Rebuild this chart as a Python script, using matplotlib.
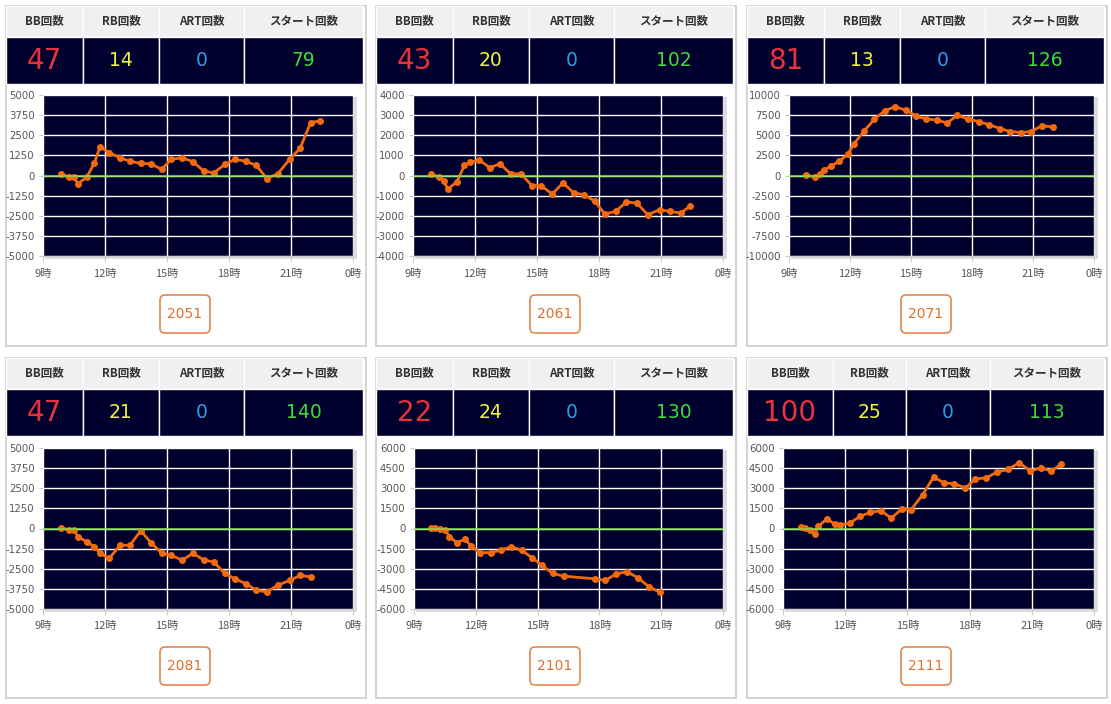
import matplotlib
matplotlib.use("Agg")
import matplotlib.pyplot as plt
from matplotlib.patches import Rectangle, FancyBboxPatch

plt.rcParams['font.family'] = ['DejaVu Sans', 'Noto Sans CJK JP']

# ---------------- data ----------------
headers = ["BB回数", "RB回数", "ART回数", "スタート回数"]
bb_counts = [47, 43, 81, 47, 22, 100]
rb_counts = [14, 20, 13, 21, 24, 25]
art_counts = [0, 0, 0, 0, 0, 0]
start_counts = [79, 102, 126, 140, 130, 113]
machine_ids = ["2051", "2061", "2071", "2081", "2101", "2111"]

x_ticks = [9, 12, 15, 18, 21, 24]
x_labels = ["9時", "12時", "15時", "18時", "21時", "0時"]

y_ticks_1 = [5000, 3750, 2500, 1250, 0, -1250, -2500, -3750, -5000]
y_ticks_2 = [4000, 3000, 2000, 1000, 0, -1000, -2000, -3000, -4000]
y_ticks_3 = [10000, 7500, 5000, 2500, 0, -2500, -5000, -7500, -10000]
y_ticks_4 = [5000, 3750, 2500, 1250, 0, -1250, -2500, -3750, -5000]
y_ticks_5 = [6000, 4500, 3000, 1500, 0, -1500, -3000, -4500, -6000]
y_ticks_6 = [6000, 4500, 3000, 1500, 0, -1500, -3000, -4500, -6000]

times_1 = [9.85, 10.28, 10.48, 10.69, 11.12, 11.49, 11.76, 12.21, 12.72, 13.2, 13.73, 14.22, 14.75, 15.18,
           15.74, 16.26, 16.78, 17.27, 17.8, 18.28, 18.8, 19.32, 19.83, 20.36, 20.93, 21.44, 21.95, 22.4]
vals_1 = [104, -104, -104, -500, -104, 792, 1790, 1417, 1104, 896, 750, 729, 375, 1000,
          1104, 854, 271, 167, 687, 1000, 896, 625, -187, 104, 1000, 1687, 3290, 3395]

times_2 = [9.85, 10.28, 10.48, 10.69, 11.12, 11.49, 11.76, 12.21, 12.72, 13.2, 13.73, 14.22, 14.75, 15.18,
           15.74, 16.26, 16.78, 17.27, 17.8, 18.28, 18.8, 19.32, 19.83, 20.36, 20.93, 21.44, 21.95, 22.4]
vals_2 = [83, -83, -283, -667, -317, 500, 667, 767, 383, 583, 83, 83, -500, -500,
          -917, -367, -867, -950, -1283, -1917, -1783, -1317, -1367, -1950, -1700, -1783, -1867, -1533]

times_3 = [9.85, 10.3, 10.5, 10.7, 11.07, 11.48, 11.89, 12.2, 12.7, 13.2, 13.71, 14.22, 14.74, 15.23,
           15.75, 16.26, 16.78, 17.27, 17.81, 18.33, 18.85, 19.39, 19.88, 20.42, 20.9, 21.43, 22.0]
vals_3 = [42, -208, 208, 625, 1167, 1792, 2625, 3958, 5542, 7000, 8042, 8542, 8125, 7417,
          7000, 6917, 6500, 7500, 7000, 6708, 6292, 5833, 5458, 5333, 5458, 6167, 6042]

times_4 = [9.85, 10.28, 10.48, 10.69, 11.12, 11.49, 11.76, 12.21, 12.72, 13.2, 13.73, 14.22, 14.75, 15.18,
           15.74, 16.26, 16.78, 17.27, 17.8, 18.28, 18.8, 19.32, 19.83, 20.36, 20.93, 21.44, 21.95]
vals_4 = [42, -83, -83, -500, -833, -1125, -1542, -1854, -1042, -1042, -146, -875, -1542, -1667,
          -1958, -1542, -1958, -2083, -2792, -3125, -3417, -3833, -3937, -3521, -3229, -2917, -3000]

times_5 = [9.83, 10.03, 10.27, 10.51, 10.72, 11.07, 11.49, 11.76, 12.19, 12.72, 13.2, 13.73, 14.22, 14.73,
           15.21, 15.73, 16.26, 17.78, 18.29, 18.82, 19.35, 19.87, 20.43, 20.94]
vals_5 = [50, 25, 0, -125, -600, -1050, -800, -1300, -1800, -1800, -1625, -1350, -1625, -2175,
          -2750, -3350, -3550, -3750, -3875, -3375, -3225, -3675, -4375, -4750]

times_6 = [9.85, 10.04, 10.28, 10.52, 10.69, 11.12, 11.49, 11.76, 12.21, 12.72, 13.2, 13.73, 14.22, 14.75,
           15.18, 15.74, 16.26, 16.78, 17.27, 17.8, 18.28, 18.8, 19.32, 19.83, 20.4, 20.93, 21.44, 21.95, 22.4]
vals_6 = [75, 25, -100, -425, 150, 725, 325, 275, 400, 900, 1200, 1325, 775, 1475,
          1400, 2525, 3825, 3400, 3325, 3025, 3700, 3775, 4200, 4400, 4900, 4275, 4525, 4275, 4775]

series_times = [times_1, times_2, times_3, times_4, times_5, times_6]
series_vals = [vals_1, vals_2, vals_3, vals_4, vals_5, vals_6]
series_yticks = [y_ticks_1, y_ticks_2, y_ticks_3, y_ticks_4, y_ticks_5, y_ticks_6]

# ---------------- layout ----------------
W, H = 1111, 704
fig = plt.figure(figsize=(W / 100, H / 100), dpi=100)
fig.patch.set_facecolor('white')
bg = fig.add_axes([0, 0, 1, 1], zorder=0)
bg.set_xlim(0, W)
bg.set_ylim(H, 0)
bg.axis('off')

NAVY = '#00002e'
panel_x = [5, 375, 746]
row_y = [5, 357]
PW, PH = 360, 340
col_w_default = [77, 76, 85, 119]
col_w_wide = [86, 73, 84, 114]
plot_left_off = [38, 38, 43, 38, 39, 37]

JP = ['DejaVu Sans', 'Noto Sans CJK JP']

def fig_rect(x0, y0, x1, y1):
    return [x0 / W, 1 - y1 / H, (x1 - x0) / W, (y1 - y0) / H]

for i in range(6):
    px = panel_x[i % 3]
    py = row_y[i // 3]
    # panel border
    bg.add_patch(Rectangle((px + 0.5, py + 0.5), PW, PH, fill=False, ec='#cccccc', lw=1.2))
    # table
    widths = col_w_wide if bb_counts[i] >= 100 else col_w_default
    cx = px + 1
    vals_row = [bb_counts[i], rb_counts[i], art_counts[i], start_counts[i]]
    colors = ['#e8323c', '#f4f43a', '#2a9fe8', '#3ddc3a']
    sizes = [20, 13.5, 13.5, 13.5]
    for j, w in enumerate(widths):
        bg.add_patch(Rectangle((cx, py + 1), w, 31, fc='#f0f0f0', ec='white', lw=1))
        bg.add_patch(Rectangle((cx, py + 32), w, 47, fc=NAVY, ec='white', lw=1))
        bg.text(cx + w / 2, py + 17, headers[j], ha='center', va='center', fontsize=8.3,
                fontweight='bold', color='#333333', family=['Noto Sans CJK JP'])
        bg.text(cx + w / 2, py + 56, str(vals_row[j]), ha='center', va='center',
                fontsize=sizes[j], color=colors[j], family=JP)
        cx += w
    # plot area
    x0 = px + plot_left_off[i]
    x1 = px + 348
    y0 = py + 90 + (1 if i >= 3 else 0)
    y1 = py + 251 + (1 if i >= 3 else 0)
    bg.add_patch(Rectangle((x0 + 2, y0 + 2), x1 - x0 + 2, y1 - y0 + 1, fc='#dddddd', ec='none'))
    ax = fig.add_axes(fig_rect(x0, y0, x1, y1), zorder=2)
    ax.set_facecolor(NAVY)
    yt = series_yticks[i]
    ax.set_xlim(9, 24)
    ax.set_ylim(min(yt), max(yt))
    ax.set_xticks(x_ticks)
    ax.set_xticklabels(x_labels, family=['Noto Sans CJK JP'])
    ax.set_yticks(yt)
    ax.set_yticklabels([str(v) for v in yt])
    ax.grid(True, color='white', lw=1)
    ax.set_axisbelow(True)
    for s in ['top', 'right', 'left']:
        ax.spines[s].set_visible(False)
    ax.spines['bottom'].set_color('#cccccc')
    ax.tick_params(axis='y', length=3, width=0.8, color='#cccccc', pad=3,
                   labelsize=7.3, labelcolor='#555555')
    ax.tick_params(axis='x', length=4, width=0.8, color='#cccccc', pad=5,
                   labelsize=8, labelcolor='#555555')
    ax.plot(series_times[i], series_vals[i], color='#f26a0f', lw=2, marker='o',
            markersize=4, zorder=3, clip_on=False)
    ax.axhline(0, color='#7ee04a', lw=1.5, alpha=0.75, zorder=4)
    # button
    bx = px + PW / 2
    by0 = py + 290
    bg.add_patch(FancyBboxPatch((bx - 25, by0), 50, 38, boxstyle='round,pad=0,rounding_size=5',
                                fc='white', ec='#e0884a', lw=1.2))
    bg.text(bx, by0 + 19.5, machine_ids[i], ha='center', va='center', fontsize=10,
            color='#d9732e', family=JP)

fig.savefig('out.png', dpi=100, facecolor='white')
